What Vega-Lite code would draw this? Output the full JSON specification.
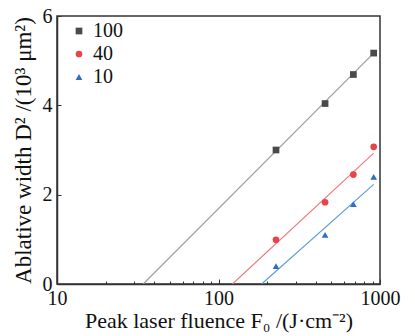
{
  "$schema": "https://vega.github.io/schema/vega-lite/v6.json",
  "autosize": {"type": "none"},
  "padding": {"left": 57, "top": 16, "right": 35, "bottom": 52},
  "width": 323,
  "height": 268,
  "background": "white",
  "config": {
    "font": "Liberation Serif",
    "view": {"stroke": "#333333", "strokeWidth": 1.5},
    "axis": {"grid": false, "domainColor": "#333333", "domainWidth": 1.5, "tickColor": "#333333", "labelColor": "#111111", "titleColor": "#111111", "labelFont": "Liberation Serif", "titleFont": "Liberation Serif", "labelFontSize": 20, "titleFontSize": 22, "titleFontWeight": "normal"},
    "legend": {"labelFont": "Liberation Serif"}
  },
  "datasets": {
    "pts": [
      {"s": "100", "F": 227, "D2": 3.0},
      {"s": "100", "F": 457, "D2": 4.04},
      {"s": "100", "F": 684, "D2": 4.69},
      {"s": "100", "F": 914, "D2": 5.17},
      {"s": "40", "F": 227, "D2": 0.99},
      {"s": "40", "F": 457, "D2": 1.83},
      {"s": "40", "F": 684, "D2": 2.45},
      {"s": "40", "F": 914, "D2": 3.07},
      {"s": "10", "F": 227, "D2": 0.4},
      {"s": "10", "F": 457, "D2": 1.1},
      {"s": "10", "F": 684, "D2": 1.79},
      {"s": "10", "F": 914, "D2": 2.4}
    ],
    "fit": [
      {"fitSeries": "100", "F": 34.2, "D2": 0},
      {"fitSeries": "100", "F": 914, "D2": 5.17},
      {"fitSeries": "40", "F": 122, "D2": 0},
      {"fitSeries": "40", "F": 914, "D2": 2.93},
      {"fitSeries": "10", "F": 185, "D2": 0},
      {"fitSeries": "10", "F": 914, "D2": 2.23}
    ]
  },
  "layer": [
    {
      "data": {"name": "fit"},
      "transform": [{"filter": "datum.fitSeries == '100'"}],
      "mark": {"type": "line", "strokeWidth": 1.2, "clip": true, "color": "#9c9c9c"},
      "encoding": {
        "x": {"field": "F", "type": "quantitative",
          "scale": {"type": "log", "domain": [10, 1000], "nice": false},
          "axis": {
            "values": [10, 20, 30, 40, 50, 60, 70, 80, 90, 100, 200, 300, 400, 500, 600, 700, 800, 900, 1000],
            "labelExpr": "datum.value == 10 || datum.value == 100 || datum.value == 1000 ? datum.label : ''",
            "tickSize": {"condition": {"test": "datum.value == 10 || datum.value == 100 || datum.value == 1000", "value": -5}, "value": -3},
            "labelPadding": 9,
            "labelFont": "Liberation Serif",
            "labelFlush": false,
            "labelOverlap": false,
            "format": "d",
            "title": "Peak laser fluence F₀ /(J·cm⁻²)",
            "titlePadding": 0
          }},
        "y": {"field": "D2", "type": "quantitative",
          "scale": {"domain": [0, 6], "nice": false},
          "axis": {"values": [0, 2, 4, 6], "tickSize": -4, "labelPadding": 9, "labelFont": "Liberation Serif", "titleFontSize": 23, "title": "Ablative width D² /(10³ μm²)", "titlePadding": 7}}
      }
    },
    {
      "data": {"name": "fit"},
      "transform": [{"filter": "datum.fitSeries == '40'"}],
      "mark": {"type": "line", "strokeWidth": 1.2, "clip": true, "color": "#f07a80"},
      "encoding": {
        "x": {"field": "F", "type": "quantitative"},
        "y": {"field": "D2", "type": "quantitative"}
      }
    },
    {
      "data": {"name": "fit"},
      "transform": [{"filter": "datum.fitSeries == '10'"}],
      "mark": {"type": "line", "strokeWidth": 1.2, "clip": true, "color": "#5f9bdc"},
      "encoding": {
        "x": {"field": "F", "type": "quantitative"},
        "y": {"field": "D2", "type": "quantitative"}
      }
    },
    {
      "data": {"name": "pts"},
      "mark": {"type": "point", "filled": true, "opacity": 1, "size": 45},
      "encoding": {
        "x": {"field": "F", "type": "quantitative"},
        "y": {"field": "D2", "type": "quantitative"},
        "color": {"field": "s", "type": "nominal",
          "scale": {"domain": ["100", "40", "10"], "range": ["#4a4a4a", "#e8434a", "#2e6fc0"]},
          "legend": {"title": null, "orient": "none", "legendX": 12, "legendY": 5, "labelFontSize": 20, "labelFont": "Liberation Serif", "labelColor": "#111111", "rowPadding": 3, "symbolSize": 45, "labelOffset": 4, "padding": 0}},
        "shape": {"field": "s", "type": "nominal",
          "scale": {"domain": ["100", "40", "10"], "range": ["square", "circle", "triangle-up"]},
          "legend": {"title": null, "orient": "none", "legendX": 12, "legendY": 5, "labelFontSize": 20, "labelFont": "Liberation Serif", "labelColor": "#111111", "rowPadding": 3, "symbolSize": 45, "labelOffset": 4, "padding": 0}}
      }
    }
  ]
}
